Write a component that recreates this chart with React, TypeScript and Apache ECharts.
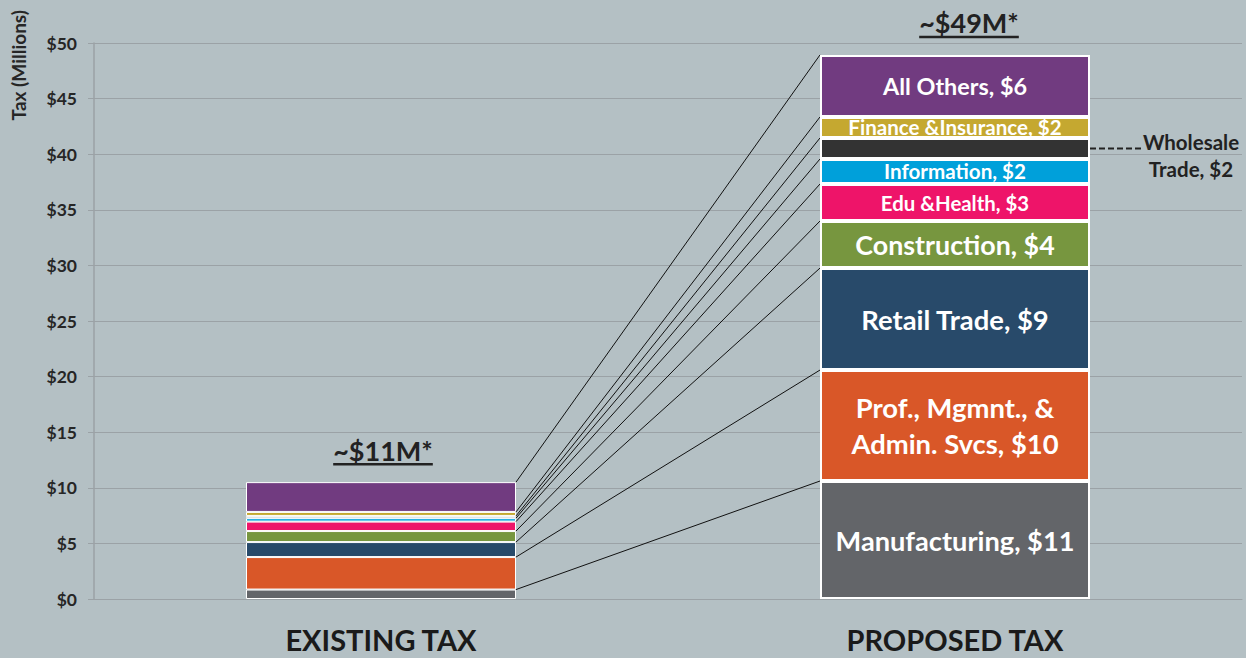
import React, { useEffect, useRef } from "react";
import * as echarts from "echarts";

// ---------- data ----------
const categories = ["EXISTING TAX", "PROPOSED TAX"];
const sectors = [
  "Manufacturing",
  "Prof., Mgmnt., & Admin. Svcs",
  "Retail Trade",
  "Construction",
  "Edu &Health",
  "Information",
  "Wholesale Trade",
  "Finance &Insurance",
  "All Others",
];
const existingValues = [0.85, 2.92, 1.35, 0.99, 0.85, 0.31, 0.2, 0.36, 2.68];
const proposedValues = [10.61, 9.98, 9.17, 4.23, 3.33, 2.25, 1.89, 1.89, 5.58];
const segmentLabels = [
  "Manufacturing, $11",
  "Prof., Mgmnt., &\nAdmin. Svcs, $10",
  "Retail Trade, $9",
  "Construction, $4",
  "Edu &Health, $3",
  "Information, $2",
  "",
  "Finance &Insurance, $2",
  "All Others, $6",
];
const totalLabels = ["~$11M*", "~$49M*"];
const wholesaleNote = "Wholesale\nTrade, $2";
const yAxisName = "Tax (Millions)";
const yMin = 0;
const yMax = 50;
const yStep = 5;

// ---------- styles ----------
const colors = [
  "#636569",
  "#D95728",
  "#284A6A",
  "#77963F",
  "#EE1469",
  "#00A0DA",
  "#333333",
  "#C5A830",
  "#713B80",
];
const labelSizes = [27.2, 27.4, 27.4, 26.8, 20.4, 20.6, 0, 20.6, 23.4];
const FONT = "Lato, 'Open Sans', sans-serif";
const BG = "#b4c0c4";
const GRID = "#9ba2a6";
const BAR_W = 270;
const totalOffsetX = [2, 14];

function measure(text: string, font: string): number {
  const c = document.createElement("canvas").getContext("2d");
  if (!c) return text.length * 10;
  c.font = font;
  return c.measureText(text).width;
}

export default function App() {
  const ref = useRef<HTMLDivElement>(null);

  useEffect(() => {
    if (!ref.current) return;
    const chart = echarts.init(ref.current, undefined, { renderer: "svg" });

    const cumE: number[] = [];
    const cumP: number[] = [];
    let se = 0;
    let sp = 0;
    for (let i = 0; i < sectors.length; i++) {
      se += existingValues[i];
      sp += proposedValues[i];
      cumE.push(se);
      cumP.push(sp);
    }
    const wholesaleIdx = sectors.indexOf("Wholesale Trade");
    const wholesaleMid = cumP[wholesaleIdx] - proposedValues[wholesaleIdx] / 2;

    const barSeries = sectors.map((name, i) => ({
      name,
      type: "bar",
      stack: "total",
      barWidth: BAR_W,
      z: 3,
      itemStyle: { color: colors[i], borderColor: "#ffffff", borderWidth: 2 },
      data: [
        {
          value: existingValues[i],
          label: { show: false },
          itemStyle: { borderWidth: 1 },
        },
        {
          value: proposedValues[i],
          label: {
            show: segmentLabels[i] !== "",
            position: "inside",
            formatter: segmentLabels[i],
            color: "#ffffff",
            fontFamily: FONT,
            fontWeight: "bold",
            fontSize: labelSizes[i],
            lineHeight: labelSizes[i] * 1.3,
          },
        },
      ],
    }));

    const totalFont = `bold 27px ${FONT}`;

    const option: any = {
      animation: false,
      backgroundColor: BG,
      grid: { left: 94, right: 4, top: 43, bottom: 59, containLabel: false },
      xAxis: {
        type: "category",
        data: categories,
        axisLine: { show: true, lineStyle: { color: GRID, width: 1 } },
        axisTick: { show: false },
        axisLabel: {
          color: "#1a1a1a",
          fontFamily: FONT,
          fontWeight: "bold",
          fontSize: 29,
          margin: 26,
        },
      },
      yAxis: {
        type: "value",
        min: yMin,
        max: yMax,
        interval: yStep,
        axisLine: { show: true, lineStyle: { color: GRID, width: 1.5 } },
        axisTick: { show: true, length: 6, lineStyle: { color: GRID } },
        splitLine: { show: true, lineStyle: { color: GRID, width: 1 } },
        axisLabel: {
          color: "#262626",
          fontFamily: FONT,
          fontWeight: "bold",
          fontSize: 17.5,
          margin: 17,
          formatter: (v: number) => "$" + v,
        },
      },
      graphic: [
        {
          type: "text",
          left: 9,
          top: 10,
          rotation: Math.PI / 2,
          style: {
            text: yAxisName,
            fill: "#262626",
            font: `bold 19px ${FONT}`,
          },
        },
      ],
      series: [
        ...barSeries,
        {
          type: "custom",
          name: "connectors",
          z: 2,
          silent: true,
          encode: { x: 0, y: [1, 2] },
          data: cumE.map((v, i) => [0, v, cumP[i]]),
          renderItem: (params: any, api: any) => {
            const a = api.coord([0, api.value(1)]);
            const b = api.coord([1, api.value(2)]);
            return {
              type: "line",
              shape: {
                x1: a[0] + BAR_W / 2,
                y1: a[1],
                x2: b[0] - BAR_W / 2,
                y2: b[1],
              },
              style: { stroke: "#111111", lineWidth: 1 },
            };
          },
        },
        {
          type: "custom",
          name: "totals",
          z: 5,
          silent: true,
          encode: { x: 0, y: 1 },
          data: [
            [0, cumE[cumE.length - 1]],
            [1, cumP[cumP.length - 1]],
          ],
          renderItem: (params: any, api: any) => {
            const idx = params.dataIndex;
            const p = api.coord([api.value(0), api.value(1)]);
            const txt = totalLabels[idx];
            const w = measure(txt, totalFont);
            const cx = p[0] + totalOffsetX[idx];
            const ty = p[1] - 32;
            return {
              type: "group",
              children: [
                {
                  type: "text",
                  x: cx,
                  y: ty,
                  style: {
                    text: txt,
                    font: totalFont,
                    fill: "#222222",
                    align: "center",
                    verticalAlign: "middle",
                  },
                },
                {
                  type: "line",
                  shape: { x1: cx - w / 2, y1: ty + 14, x2: cx + w / 2, y2: ty + 14 },
                  style: { stroke: "#222222", lineWidth: 2.5 },
                },
              ],
            };
          },
        },
        {
          type: "custom",
          name: "wholesaleNote",
          z: 5,
          silent: true,
          encode: { x: 0, y: 1 },
          data: [[1, wholesaleMid]],
          renderItem: (params: any, api: any) => {
            const p = api.coord([api.value(0), api.value(1)]);
            const x0 = p[0] + BAR_W / 2;
            return {
              type: "group",
              children: [
                {
                  type: "line",
                  shape: { x1: x0, y1: p[1], x2: x0 + 52, y2: p[1] },
                  style: { stroke: "#222222", lineWidth: 2, lineDash: [6, 3] },
                },
                {
                  type: "text",
                  x: x0 + 101,
                  y: p[1] - 20,
                  style: {
                    text: wholesaleNote,
                    font: `bold 20.5px ${FONT}`,
                    fill: "#222222",
                    align: "center",
                    verticalAlign: "top",
                    lineHeight: 27,
                  },
                },
              ],
            };
          },
        },
      ],
    };

    chart.setOption(option);
    return () => chart.dispose();
  }, []);

  return (
    <div
      ref={ref}
      style={{
        position: "fixed",
        left: 0,
        top: 0,
        width: 1246,
        height: 658,
        background: BG,
      }}
    />
  );
}
